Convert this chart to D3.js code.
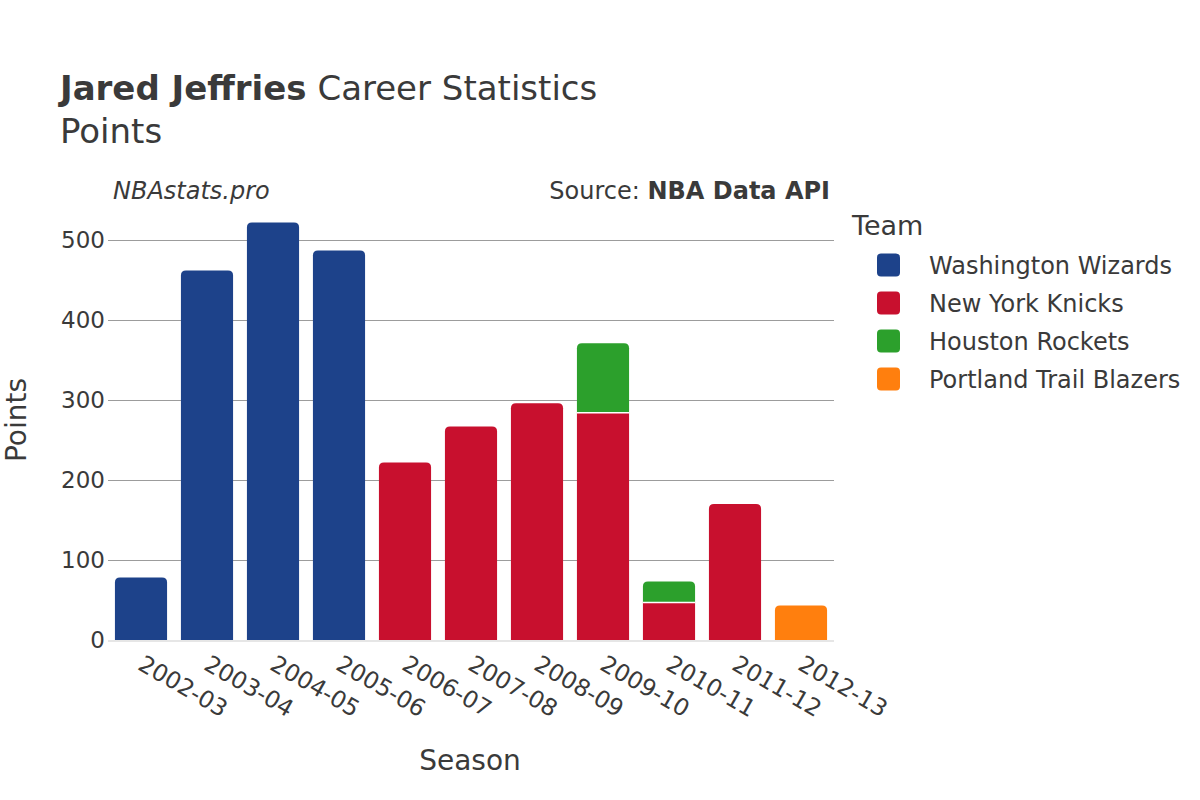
<!DOCTYPE html>
<html><head><meta charset="utf-8">
<script src="https://cdn.jsdelivr.net/npm/d3@7"></script>
<style>body{margin:0;background:#fff;} svg{display:block;font-family:"DejaVu Sans",sans-serif;}</style>
</head><body>
<svg id="c" width="1200" height="800"></svg>
<script>
const seasons = ["2002-03","2003-04","2004-05","2005-06","2006-07","2007-08","2008-09","2009-10","2010-11","2011-12","2012-13"];
const teams = ["Washington Wizards","New York Knicks","Houston Rockets","Portland Trail Blazers"];
const teamColors = ["#1d428a","#c8102e","#2ca02c","#ff7f0e"];
const wizards = [78,462,522,487,0,0,0,0,0,0,0];
const knicks  = [0,0,0,0,222,267,296,284,47,170,0];
const rockets = [0,0,0,0,0,0,0,87,26,0,0];
const blazers = [0,0,0,0,0,0,0,0,0,0,43];
const yTicks = [0,100,200,300,400,500];

const series = [wizards,knicks,rockets,blazers];
const svg = d3.select("#c");
const L=108,R=834,T=215,B=640;
const x = d3.scaleBand().domain(seasons).range([L,R]).paddingInner(0.21).paddingOuter(0.105);
const y = d3.scaleLinear().domain([0,531]).range([B,B-531*0.8]);
const col = "#3a3a3a";

// grid
svg.append("g").selectAll("line").data(yTicks.filter(d=>d>0)).join("line")
  .attr("x1",L).attr("x2",R).attr("y1",d=>y(d)+0.5).attr("y2",d=>y(d)+0.5)
  .attr("stroke","#9c9c9c").attr("stroke-width",1);
svg.append("line").attr("x1",L).attr("x2",R).attr("y1",y(0)+1).attr("y2",y(0)+1).attr("stroke","#e6e6e6").attr("stroke-width",2);

// bars
function roundTop(x0,y0,w,h,r){
  r=Math.min(r,h/2,w/2);
  return `M${x0},${y0+h}V${y0+r}Q${x0},${y0} ${x0+r},${y0}H${x0+w-r}Q${x0+w},${y0} ${x0+w},${y0+r}V${y0+h}Z`;
}
const g = svg.append("g");
seasons.forEach((s,i)=>{
  let base=0;
  const segs=[];
  series.forEach((arr,k)=>{ if(arr[i]>0){segs.push({k,v0:base,v1:base+arr[i]}); base+=arr[i];} });
  segs.forEach((sg,j)=>{
    const top = j===segs.length-1;
    const x0=x(s), w=x.bandwidth(), y0=y(sg.v1), h=y(sg.v0)-y(sg.v1);
    if(top) g.append("path").attr("d",roundTop(x0,y0,w,h,5)).attr("fill",teamColors[sg.k]);
    else g.append("rect").attr("x",x0).attr("y",y0).attr("width",w).attr("height",h).attr("fill",teamColors[sg.k]);
    if(j>0) g.append("line").attr("x1",x0).attr("x2",x0+w).attr("y1",y(sg.v0)).attr("y2",y(sg.v0)).attr("stroke","#fff").attr("stroke-width",1.5);
  });
});

// y axis labels
svg.append("g").selectAll("text").data(yTicks).join("text")
  .attr("x",105).attr("y",d=>y(d)).attr("dy","0.36em").attr("text-anchor","end")
  .attr("font-size",23).attr("fill",col).text(d=>d);

// x labels
svg.append("g").selectAll("text").data(seasons).join("text")
  .attr("transform",d=>`translate(${x(d)+x.bandwidth()/2+4},${B+14}) rotate(30)`)
  .attr("dy","0.72em").attr("font-size",23.5).attr("fill",col).text(d=>d);

// titles
const t = svg.append("text").attr("x",60).attr("y",100).attr("font-size",34).attr("fill",col);
t.append("tspan").attr("font-weight","bold").text("Jared Jeffries");
t.append("tspan").text(" Career Statistics");
svg.append("text").attr("x",60).attr("y",143).attr("font-size",34).attr("fill",col).text("Points");
svg.append("text").attr("x",113).attr("y",199).attr("font-size",24).attr("font-style","italic").attr("fill",col).text("NBAstats.pro");
const src = svg.append("text").attr("x",830).attr("y",199).attr("text-anchor","end").attr("font-size",24).attr("fill",col);
src.append("tspan").text("Source: ");
src.append("tspan").attr("font-weight","bold").text("NBA Data API");

svg.append("text").attr("x",470).attr("y",770).attr("text-anchor","middle").attr("font-size",28).attr("fill",col).text("Season");
svg.append("text").attr("transform","translate(16,420) rotate(-90)").attr("text-anchor","middle").attr("dy","0.35em").attr("font-size",28).attr("fill",col).text("Points");

// legend
svg.append("text").attr("x",852).attr("y",235).attr("font-size",27).attr("fill",col).text("Team");
const lg = svg.append("g").selectAll("g").data(teams).join("g").attr("transform",(d,i)=>`translate(877,${265+i*38})`);
lg.append("rect").attr("x",0).attr("y",-11.5).attr("width",23).attr("height",23).attr("rx",4).attr("fill",(d,i)=>teamColors[i]);
lg.append("text").attr("x",52).attr("dy","0.36em").attr("font-size",24).attr("fill",col).text(d=>d);
</script>
</body></html>
